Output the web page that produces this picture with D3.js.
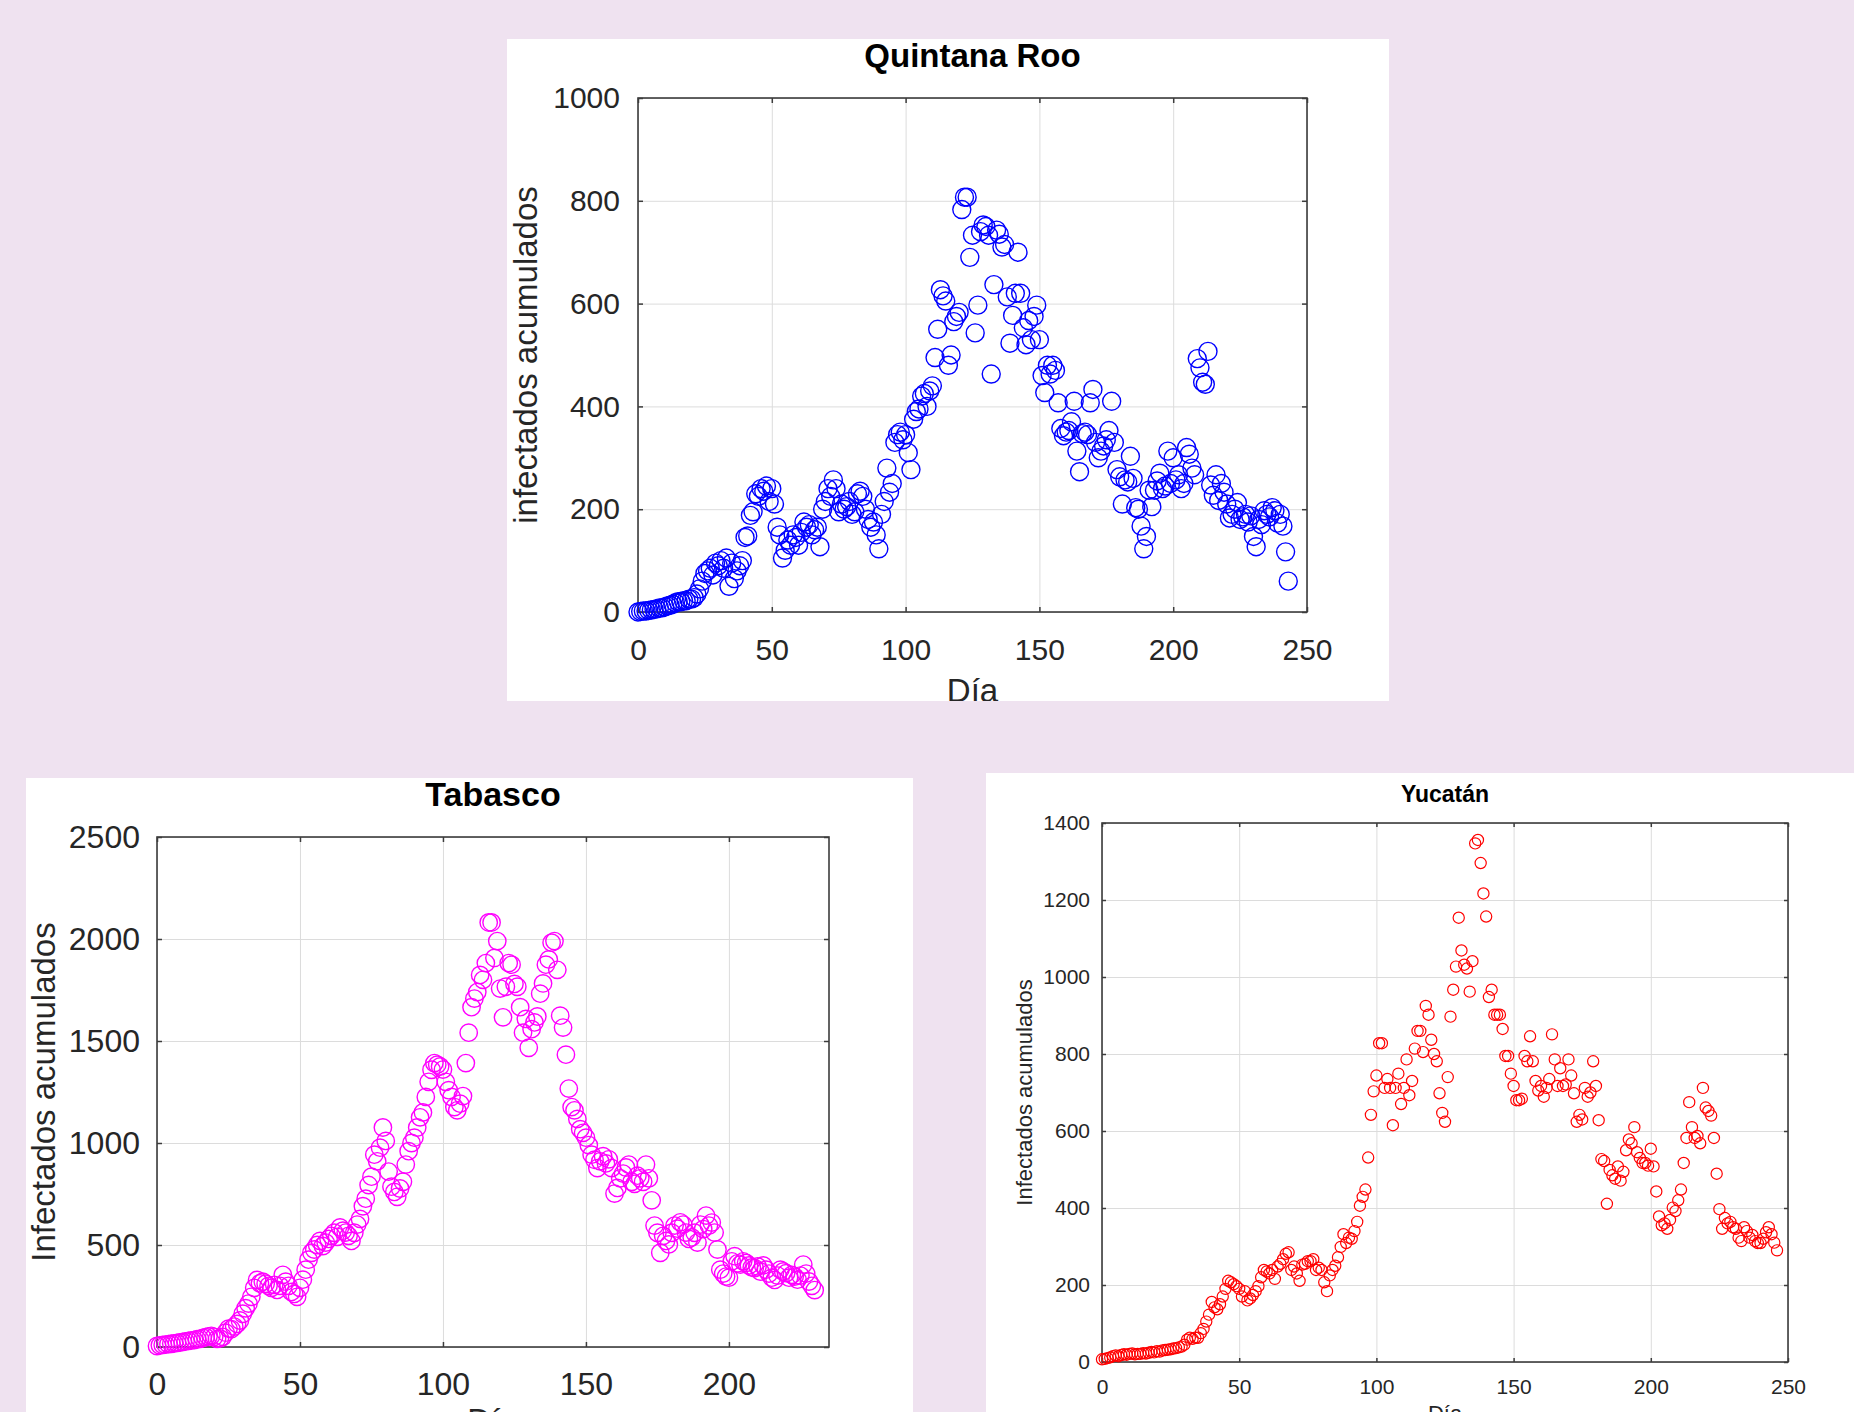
<!doctype html>
<html>
<head>
    <meta charset="utf-8">
    <script src="https://d3js.org/d3.v7.min.js"></script>
    <style>
        body { margin: 0; background: #efe2f0; }
        text { font-family: "Liberation Sans", Arial, sans-serif; }
        .grid line { stroke: #dcdcdc; stroke-width: 1; }
        .grid path { display: none; }
        .eje path { display: none; }
        .eje line { stroke: #3c3c3c; stroke-width: 1.5; }
        .eje text { fill: #262626; }
    </style>
</head>
<body>
<script>
    // casos por dia (el indice del arreglo es el dia)
    var quintanaRoo = [
        0, 1, 2, 2, 3, 4, 5, 6, 8, 8,
        10, 12, 13, 15, 18, 20, 20, 22, 22, 25,
        25, 28, 35, 45, 60, 75, 80, 85, 72, 95,
        90, 100, 85, 105, 50, 95, 65, 80, 90, 100,
        145, 148, 188, 195, 230, 225, 240, 235, 245, 215,
        240, 210, 165, 150, 105, 120, 140, 130, 150, 145,
        130, 155, 175, 165, 170, 150, 160, 165, 127, 200,
        215, 240, 225, 257, 240, 195, 210, 200, 205, 215,
        190, 195, 230, 235, 225, 200, 180, 165, 175, 150,
        123, 190, 215, 280, 233, 250, 330, 345, 350, 335,
        345, 310, 277, 375, 390, 395, 420, 425, 400, 430,
        440, 495, 550, 627, 615, 605, 480, 500, 565, 575,
        583, 783, 807, 807, 690, 733, 543, 597, 740, 753,
        750, 733, 463, 637, 743, 735, 710, 715, 613, 523,
        577, 620, 700, 620, 553, 520, 567, 530, 575, 597,
        530, 460, 427, 480, 463, 480, 470, 407, 357, 343,
        350, 353, 370, 410, 313, 273, 347, 350, 345, 407,
        433, 330, 300, 313, 323, 335, 353, 410, 330, 277,
        263, 210, 257, 253, 303, 260, 203, 200, 167, 123,
        147, 237, 205, 237, 255, 270, 240, 245, 313, 250,
        300, 257, 267, 240, 250, 320, 307, 280, 267, 493,
        475, 447, 443, 507, 247, 227, 267, 217, 250, 233,
        210, 183, 190, 200, 213, 180, 185, 190, 175, 187,
        147, 127, 180, 170, 197, 190, 185, 203, 197, 173,
        190, 167, 117, 60
    ];

    var tabasco = [
        5, 8, 10, 12, 14, 16, 18, 20, 22, 25,
        28, 30, 32, 34, 38, 40, 45, 48, 52, 55,
        50, 40, 42, 50, 70, 90, 88, 100, 113, 130,
        163, 190, 213, 246, 290, 329, 312, 320, 310, 300,
        290, 305, 280, 300, 354, 320, 300, 270, 260, 246,
        290, 330, 379, 428, 462, 478, 500, 520, 495, 512,
        530, 545, 560, 540, 586, 570, 561, 545, 520, 560,
        600, 628, 690, 727, 794, 835, 943, 910, 977, 1076,
        1010, 860, 786, 760, 736, 777, 810, 894, 960, 1000,
        1026, 1076, 1126, 1150, 1226, 1300, 1359, 1392, 1384, 1375,
        1360, 1300, 1259, 1226, 1176, 1160, 1193, 1230, 1392, 1541,
        1666, 1708, 1740, 1824, 1800, 1882, 2081, 2081, 1907, 1990,
        1757, 1616, 1766, 1882, 1874, 1780, 1766, 1666, 1541, 1608,
        1467, 1558, 1591, 1620, 1732, 1782, 1874, 1900, 1982, 1990,
        1849, 1624, 1566, 1433, 1267, 1176, 1160, 1118, 1068, 1050,
        1026, 990, 943, 918, 877, 910, 935, 900, 920, 877,
        752, 780, 827, 850, 880, 894, 810, 800, 840, 827,
        810, 894, 827, 719, 595, 560, 462, 545, 520, 503,
        560, 595, 580, 611, 600, 561, 530, 537, 560, 512,
        600, 578, 644, 595, 610, 561, 478, 379, 360, 345,
        340, 420, 445, 410, 404, 420, 412, 400, 390, 387,
        395, 370, 400, 379, 360, 340, 329, 350, 379, 370,
        362, 340, 354, 345, 330, 350, 404, 360, 321, 300,
        279
    ];

    var yucatan = [
        7, 8, 10, 12, 15, 17, 15, 18, 20, 19,
        21, 22, 20, 21, 21, 23, 22, 24, 26, 25,
        28, 27, 30, 31, 32, 33, 35, 36, 38, 40,
        45, 58, 63, 60, 63, 63, 75, 86, 105, 123,
        156, 142, 137, 150, 170, 190, 211, 207, 202, 197,
        190, 170, 184, 160, 165, 174, 184, 197, 220, 239,
        235, 230, 239, 216, 248, 255, 267, 281, 285, 239,
        248, 230, 211, 253, 255, 262, 262, 267, 239, 245,
        239, 207, 184, 225, 239, 250, 272, 299, 332, 309,
        323, 320, 340, 364, 406, 429, 448, 531, 642, 703,
        744, 828, 828, 712, 735, 712, 615, 712, 749, 670,
        712, 786, 693, 730, 814, 860, 860, 805, 925, 902,
        837, 800, 781, 698, 647, 624, 740, 897, 967, 1027,
        1154, 1069, 1032, 1022, 962, 1041, 1347, 1356, 1296, 1217,
        1157, 948, 967, 902, 902, 902, 865, 795, 795, 749,
        717, 680, 680, 684, 795, 781, 846, 781, 730, 705,
        717, 689, 712, 735, 851, 786, 717, 763, 717, 721,
        786, 744, 698, 624, 642, 630, 712, 689, 700, 781,
        717, 628, 527, 522, 411, 499, 485, 476, 508, 471,
        494, 550, 578, 568, 610, 545, 530, 517, 517, 510,
        554, 508, 443, 378, 355, 360, 346, 369, 401, 392,
        420, 448, 517, 582, 675, 610, 582, 587, 568, 712,
        661, 652, 640, 582, 489, 397, 346, 374, 360, 364,
        350, 346, 323, 314, 350, 340, 323, 330, 314, 309,
        309, 320, 337, 350, 332, 310, 290
    ];

    var ticksXQR = [0, 50, 100, 150, 200, 250];
    var ticksYQR = [0, 200, 400, 600, 800, 1000];
    var ticksXTab = [0, 50, 100, 150, 200];
    var ticksYTab = [0, 500, 1000, 1500, 2000, 2500];
    var ticksXYuc = [0, 50, 100, 150, 200, 250];
    var ticksYYuc = [0, 200, 400, 600, 800, 1000, 1200, 1400];

    var width = 1854;
    var height = 1412;
    var formato = d3.format("d");

    var svg = d3.select("body").append("svg")
                .attr("width", width)
                .attr("height", height);

    function dibujarPanel(p) {
        var x = d3.scaleLinear().domain([0, p.xMax]).range([p.left, p.right]);
        var y = d3.scaleLinear().domain([0, p.yMax]).range([p.bottom, p.top]);
        var alto = p.bottom - p.top;
        var ancho = p.right - p.left;

        // el panel blanco recorta todo lo que sale de el
        svg.append("clipPath").attr("id", "clip-" + p.id)
           .append("rect")
           .attr("x", p.panel[0]).attr("y", p.panel[1])
           .attr("width", p.panel[2]).attr("height", p.panel[3]);

        var g = svg.append("g").attr("clip-path", "url(#clip-" + p.id + ")");

        g.append("rect")
         .attr("x", p.panel[0]).attr("y", p.panel[1])
         .attr("width", p.panel[2]).attr("height", p.panel[3])
         .attr("fill", "#ffffff");

        // rejilla
        g.append("g").attr("class", "grid")
         .attr("transform", "translate(0," + p.bottom + ")")
         .call(d3.axisBottom(x).tickValues(p.xTicks).tickSize(-alto).tickFormat(""));
        g.append("g").attr("class", "grid")
         .attr("transform", "translate(" + p.left + ",0)")
         .call(d3.axisLeft(y).tickValues(p.yTicks).tickSize(-ancho).tickFormat(""));

        // ejes, marcas hacia dentro en los cuatro lados
        var ejes = [
            g.append("g").attr("class", "eje")
             .attr("transform", "translate(0," + p.bottom + ")")
             .call(d3.axisBottom(x).tickValues(p.xTicks).tickSize(-p.tick).tickPadding(p.padX).tickFormat(formato)),
            g.append("g").attr("class", "eje")
             .attr("transform", "translate(" + p.left + ",0)")
             .call(d3.axisLeft(y).tickValues(p.yTicks).tickSize(-p.tick).tickPadding(p.padY).tickFormat(formato)),
            g.append("g").attr("class", "eje")
             .attr("transform", "translate(0," + p.top + ")")
             .call(d3.axisTop(x).tickValues(p.xTicks).tickSize(-p.tick).tickFormat("")),
            g.append("g").attr("class", "eje")
             .attr("transform", "translate(" + p.right + ",0)")
             .call(d3.axisRight(y).tickValues(p.yTicks).tickSize(-p.tick).tickFormat(""))
        ];
        ejes.forEach(function(e) {
            e.attr("font-family", null).attr("font-size", null);
            e.selectAll("text").style("font-size", p.fsTick + "px");
        });

        g.append("rect")
         .attr("x", p.left).attr("y", p.top)
         .attr("width", ancho).attr("height", alto)
         .attr("fill", "none")
         .attr("stroke", "#3c3c3c")
         .attr("stroke-width", 1.6);

        // puntos
        g.append("g").selectAll("circle")
         .data(p.values)
         .enter()
         .append("circle")
         .attr("cx", function(d, i) { return x(i); })
         .attr("cy", function(d) { return y(d); })
         .attr("r", p.r)
         .attr("fill", "none")
         .attr("stroke", p.color)
         .attr("stroke-width", p.sw);

        // textos
        g.append("text")
         .attr("x", (p.left + p.right) / 2)
         .attr("y", p.titleY)
         .attr("text-anchor", "middle")
         .attr("font-weight", "bold")
         .style("font-size", p.fsTitle + "px")
         .attr("fill", "#000")
         .text(p.title);

        g.append("text")
         .attr("transform", "translate(" + p.ylabelX + "," + ((p.top + p.bottom) / 2) + ") rotate(-90)")
         .attr("text-anchor", "middle")
         .style("font-size", p.fsLabel + "px")
         .attr("fill", "#262626")
         .text(p.ylabel);

        // la etiqueta "Día" queda cortada por el borde, igual que en la figura
        g.append("text")
         .attr("x", (p.left + p.right) / 2)
         .attr("y", p.xlabelY)
         .attr("text-anchor", "middle")
         .style("font-size", p.fsLabel + "px")
         .attr("fill", "#262626")
         .text("Día");
    }

    dibujarPanel({
        id: "qr", title: "Quintana Roo", ylabel: "infectados acumulados",
        values: quintanaRoo, xTicks: ticksXQR, yTicks: ticksYQR,
        xMax: 250, yMax: 1000,
        panel: [507, 39, 882, 662],
        left: 638, right: 1307, top: 98, bottom: 612,
        tick: 5, padX: 27, padY: 18,
        fsTick: 30, fsLabel: 33, fsTitle: 33,
        titleY: 67, ylabelX: 537, xlabelY: 702,
        color: "#0000ff", r: 9, sw: 1.4
    });

    dibujarPanel({
        id: "tab", title: "Tabasco", ylabel: "Infectados acumulados",
        values: tabasco, xTicks: ticksXTab, yTicks: ticksYTab,
        xMax: 235, yMax: 2500,
        panel: [26, 778, 887, 634],
        left: 157, right: 829, top: 837, bottom: 1347,
        tick: 5, padX: 25, padY: 17,
        fsTick: 32, fsLabel: 33, fsTitle: 34,
        titleY: 806, ylabelX: 55, xlabelY: 1432,
        color: "#ff00ff", r: 8.7, sw: 1.4
    });

    dibujarPanel({
        id: "yuc", title: "Yucatán", ylabel: "Infectados acumulados",
        values: yucatan, xTicks: ticksXYuc, yTicks: ticksYYuc,
        xMax: 250, yMax: 1400,
        panel: [986, 773, 868, 639],
        left: 1102, right: 1788, top: 823, bottom: 1362,
        tick: 4, padX: 17, padY: 12,
        fsTick: 21, fsLabel: 22, fsTitle: 23,
        titleY: 802, ylabelX: 1032, xlabelY: 1421,
        color: "#ff0000", r: 5.6, sw: 1.2
    });
</script>
</body>
</html>
